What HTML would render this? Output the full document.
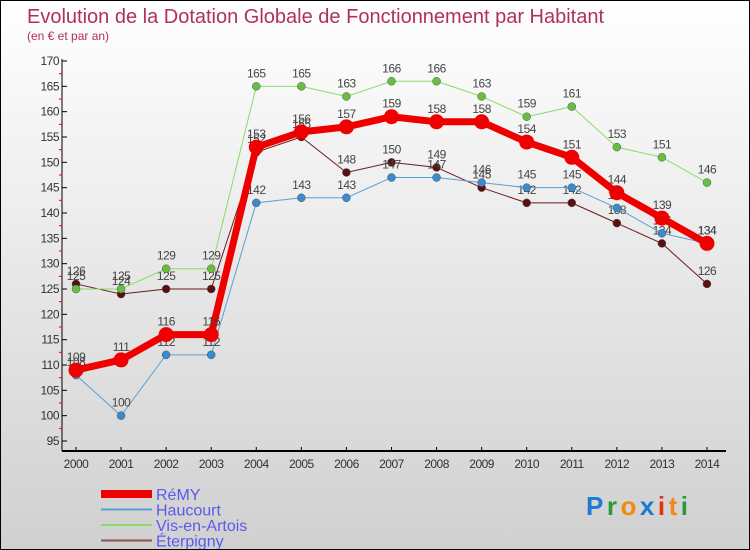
<!DOCTYPE html>
<html><head><meta charset="utf-8"><style>
body{margin:0;}
#c{width:748px;height:548px;border:1px solid #000;position:relative;background:linear-gradient(#fff,#d0d0d0);font-family:"Liberation Sans",sans-serif;overflow:hidden}
svg text{font-family:"Liberation Sans",sans-serif}
</style></head><body>
<div id="c">
<svg id="s" width="748" height="548">
<text x="26" y="22" font-size="20" fill="#b0305a">Evolution de la Dotation Globale de Fonctionnement par Habitant</text>
<text x="26" y="39" font-size="12" fill="#b0305a">(en € et par an)</text>
<g id="axes"></g><g id="series"></g><g id="legend"></g>
<text x="585" y="514" font-size="26" font-weight="bold" letter-spacing="3.5"><tspan fill="#1a7ad4">P</tspan><tspan fill="#2a9a3a">r</tspan><tspan fill="#f08a10">o</tspan><tspan fill="#1a7ad4">x</tspan><tspan fill="#e83010">i</tspan><tspan fill="#f08a10">t</tspan><tspan fill="#2a9a3a">i</tspan></text>
</svg></div>
<script>
const years=[2000,2001,2002,2003,2004,2005,2006,2007,2008,2009,2010,2011,2012,2013,2014];
const remy=[109,111,116,116,153,156,157,159,158,158,154,151,144,139,134];
const haucourt=[108,100,112,112,142,143,143,147,147,146,145,145,141,136,134];
const vis=[125,125,129,129,165,165,163,166,166,163,159,161,153,151,146];
const eterpigny=[126,124,125,125,152,155,148,150,149,145,142,142,138,134,126];
const yTicks=[95,100,105,110,115,120,125,130,135,140,145,150,155,160,165,170];
const NS="http://www.w3.org/2000/svg";
const xs=i=>75+i*45.07, ys=v=>440-(v-95)*(380/75);
function mk(t,a,p){const e=document.createElementNS(NS,t);for(const k in a)e.setAttribute(k,a[k]);p.appendChild(e);return e;}
const ax=document.getElementById('axes');
let e=mk('line',{x1:61,y1:58,x2:61,y2:450,stroke:'#000'},ax);


e=mk('line',{x1:61,y1:450,x2:725,y2:450,stroke:'#000','stroke-width':2},ax);


yTicks.forEach(v=>{const y=ys(v);mk('line',{x1:61,x2:66,y1:y,y2:y,stroke:'#000'},ax);
if(v<170)mk('line',{x1:58,x2:61,y1:ys(v+2.5),y2:ys(v+2.5),stroke:'#e00'},ax);
const t=mk('text',{x:58,y:y+4,'font-size':12,'text-anchor':'end',fill:'#333','letter-spacing':'-0.5'},ax);t.textContent=v;

});
years.forEach((yr,i)=>{const x=xs(i);mk('line',{x1:x,x2:x,y1:446,y2:450,stroke:'#000'},ax);
const t=mk('text',{x:x,y:467,'font-size':12,'text-anchor':'middle',fill:'#333','letter-spacing':'-0.5'},ax);t.textContent=yr;

});
const S=[[eterpigny,'#6b1a1a','#5a1010',1,4,'eterpigny'],[vis,'#88dd66','#66c040',1,4,'vis-en-artois'],[haucourt,'#5a9fd4','#3a8ad0',1,4,'haucourt'],[remy,'#ee0000','#ee0000',7,7.5,'remy']];
const sg=document.getElementById('series');
S.forEach(([d,c,fc,w,r,n])=>{const g=mk('g',{},sg);


mk('polyline',{points:d.map((v,i)=>xs(i)+','+ys(v)).join(' '),fill:'none',stroke:c,'stroke-width':w,'stroke-linejoin':'round'},g);
d.forEach((v,i)=>{const p=mk('circle',{cx:xs(i),cy:ys(v),r:r,fill:fc,stroke:w>1?'none':'#555','stroke-width':0.5},g);


const t=mk('text',{x:xs(i),y:ys(v)-9,'font-size':12,'text-anchor':'middle',fill:'#444','letter-spacing':'-0.5'},g);t.textContent=v;

});});
const lg=document.getElementById('legend');
[['RéMY','#ee0000',8],['Haucourt','#5a9fd4',2],['Vis-en-Artois','#88dd66',2],['Éterpigny','#905050',2]].forEach(([n,c,w],i)=>{const y=493+i*15.5;
const g=mk('g',{},lg);


mk('line',{x1:100,x2:151,y1:y,y2:y,stroke:c,'stroke-width':w},g);
const t=mk('text',{x:155,y:y+6,'font-size':16,fill:'#5a5aee'},g);t.textContent=n;});
</script>
</body></html>
